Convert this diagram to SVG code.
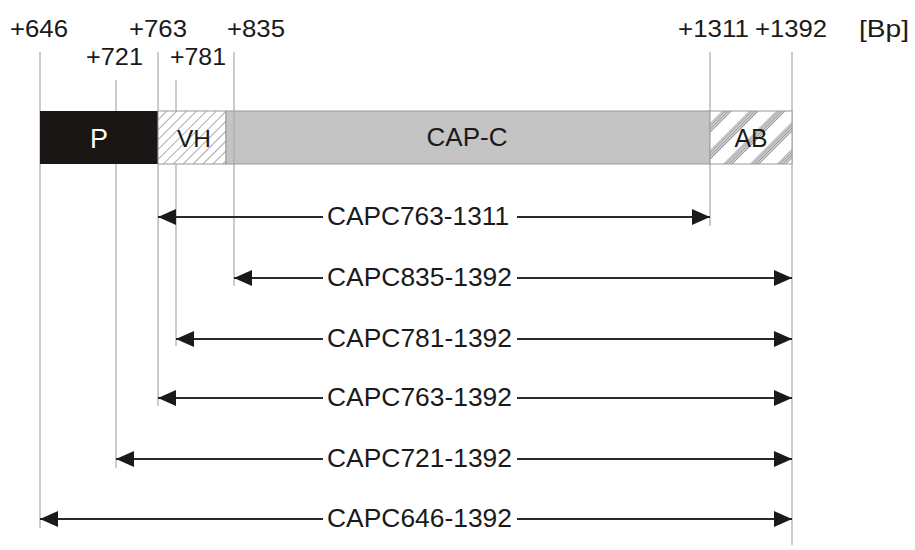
<svg xmlns="http://www.w3.org/2000/svg" width="915" height="550" viewBox="0 0 915 550">
<style>
text{font-family:"Liberation Sans",Arial,sans-serif;fill:#1a1a1a}
.t{font-size:24px}
.g{stroke:#aaa;stroke-width:1.2;fill:none}
.a{stroke:#2a2a2a;stroke-width:2;fill:none}
.lab{font-size:26px;text-anchor:middle}
</style>
<defs>
<pattern id="h1" patternUnits="userSpaceOnUse" width="7" height="7" patternTransform="rotate(45)">
<rect width="7" height="7" fill="#fff"/>
<line x1="0" y1="0" x2="0" y2="7" stroke="#444" stroke-width="0.9"/>
</pattern>
<pattern id="h2" patternUnits="userSpaceOnUse" width="19" height="19" patternTransform="rotate(45)">
<rect width="19" height="19" fill="#fff"/>
<line x1="1" y1="0" x2="1" y2="19" stroke="#555" stroke-width="0.7"/>
<line x1="2.8" y1="0" x2="2.8" y2="19" stroke="#555" stroke-width="0.7"/>
<line x1="4.6" y1="0" x2="4.6" y2="19" stroke="#555" stroke-width="0.7"/>
<line x1="6.4" y1="0" x2="6.4" y2="19" stroke="#555" stroke-width="0.7"/>
</pattern>
<marker id="ah" markerUnits="userSpaceOnUse" markerWidth="18" markerHeight="16" refX="18" refY="8" orient="auto-start-reverse">
<path d="M0,0 L18,8 L0,16 Z" fill="#1a1a1a"/>
</marker>
</defs>

<g id="positions">
<text class="t" x="10" y="36.5" textLength="58" lengthAdjust="spacingAndGlyphs">+646</text>
<text class="t" x="86" y="65" textLength="57" lengthAdjust="spacingAndGlyphs">+721</text>
<text class="t" x="129" y="36.5" textLength="58" lengthAdjust="spacingAndGlyphs">+763</text>
<text class="t" x="170" y="65" textLength="56" lengthAdjust="spacingAndGlyphs">+781</text>
<text class="t" x="227" y="36.5" textLength="58" lengthAdjust="spacingAndGlyphs">+835</text>
<text class="t" x="678" y="36.5" textLength="71" lengthAdjust="spacingAndGlyphs">+1311</text>
<text class="t" x="755" y="36.5" textLength="72" lengthAdjust="spacingAndGlyphs">+1392</text>
<text class="t" x="859" y="36.5" textLength="50" lengthAdjust="spacingAndGlyphs">[Bp]</text>
</g>

<g id="guides">
<line class="g" x1="40" y1="52" x2="40" y2="528"/>
<line class="g" x1="116" y1="80" x2="116" y2="468"/>
<line class="g" x1="158" y1="52" x2="158" y2="406"/>
<line class="g" x1="176" y1="80" x2="176" y2="346"/>
<line class="g" x1="234" y1="52" x2="234" y2="286"/>
<line class="g" x1="710" y1="52" x2="710" y2="226"/>
<line class="g" x1="792" y1="52" x2="792" y2="545"/>
</g>

<g id="bar">
<rect id="seg-P" x="40" y="111" width="118" height="53" fill="#1a1616"/>
<rect id="seg-VH" x="158" y="111" width="68" height="53" fill="url(#h1)" stroke="#999" stroke-width="1"/>
<rect id="seg-CAPC" x="226" y="111" width="484" height="53" fill="#c4c4c4" stroke="#999" stroke-width="1"/>
<rect id="seg-AB" x="710" y="111" width="82" height="53" fill="url(#h2)" stroke="#999" stroke-width="1"/>
<line class="g" x1="234" y1="111" x2="234" y2="164"/>
<text x="99" y="148" text-anchor="middle" style="fill:#fff" font-size="27">P</text>
<text class="t" x="194" y="147" text-anchor="middle" textLength="34" lengthAdjust="spacingAndGlyphs">VH</text>
<text class="t" x="467" y="146" text-anchor="middle" textLength="81" lengthAdjust="spacingAndGlyphs" style="font-size:25px">CAP-C</text>
<text class="t" x="751" y="147" text-anchor="middle" textLength="33" lengthAdjust="spacingAndGlyphs" style="font-size:25px">AB</text>
</g>

<g id="connectors">
<line class="a" x1="323" y1="217" x2="158" y2="217" marker-end="url(#ah)"/>
<line class="a" x1="517" y1="217" x2="710" y2="217" marker-end="url(#ah)"/>
<line class="a" x1="323" y1="278" x2="234" y2="278" marker-end="url(#ah)"/>
<line class="a" x1="517" y1="278" x2="792" y2="278" marker-end="url(#ah)"/>
<line class="a" x1="323" y1="339" x2="176" y2="339" marker-end="url(#ah)"/>
<line class="a" x1="517" y1="339" x2="792" y2="339" marker-end="url(#ah)"/>
<line class="a" x1="323" y1="398" x2="158" y2="398" marker-end="url(#ah)"/>
<line class="a" x1="517" y1="398" x2="792" y2="398" marker-end="url(#ah)"/>
<line class="a" x1="323" y1="459" x2="116" y2="459" marker-end="url(#ah)"/>
<line class="a" x1="517" y1="459" x2="792" y2="459" marker-end="url(#ah)"/>
<line class="a" x1="323" y1="519" x2="40" y2="519" marker-end="url(#ah)"/>
<line class="a" x1="517" y1="519" x2="792" y2="519" marker-end="url(#ah)"/>
</g>

<g id="labels">
<text class="lab" x="418" y="225" textLength="182" lengthAdjust="spacingAndGlyphs">CAPC763-1311</text>
<text class="lab" x="419.5" y="286" textLength="185" lengthAdjust="spacingAndGlyphs">CAPC835-1392</text>
<text class="lab" x="419.5" y="347" textLength="185" lengthAdjust="spacingAndGlyphs">CAPC781-1392</text>
<text class="lab" x="419.5" y="406" textLength="185" lengthAdjust="spacingAndGlyphs">CAPC763-1392</text>
<text class="lab" x="419.5" y="467" textLength="185" lengthAdjust="spacingAndGlyphs">CAPC721-1392</text>
<text class="lab" x="419.5" y="527" textLength="185" lengthAdjust="spacingAndGlyphs">CAPC646-1392</text>
</g>
</svg>
